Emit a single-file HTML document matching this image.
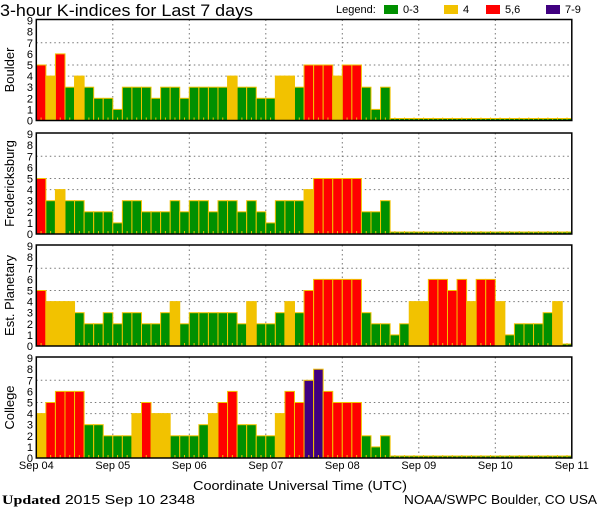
<!DOCTYPE html>
<html><head><meta charset="utf-8"><style>
body{margin:0;background:#fff;}
svg{display:block;font-family:"Liberation Sans",sans-serif;}
</style></head><body>
<svg id="c" width="600" height="510" xmlns="http://www.w3.org/2000/svg">
<text x="0" y="16" font-size="17" textLength="253" lengthAdjust="spacingAndGlyphs">3-hour K-indices for Last 7 days</text>
<g font-size="11">
<text x="336" y="13">Legend:</text>
<rect x="384" y="5" width="14" height="9" fill="#009000"/>
<text x="403" y="13">0-3</text>
<rect x="444" y="5" width="14" height="9" fill="#f2c200"/>
<text x="463" y="13">4</text>
<rect x="486" y="5" width="14" height="9" fill="#ff0000"/>
<text x="505" y="13">5,6</text>
<rect x="546" y="5" width="14" height="9" fill="#400080"/>
<text x="565" y="13">7-9</text>
</g>
<text x="193" y="490" font-size="13" textLength="214" lengthAdjust="spacingAndGlyphs">Coordinate Universal Time (UTC)</text>
<text x="2" y="504" font-size="13" textLength="193" lengthAdjust="spacingAndGlyphs"><tspan font-weight="bold" font-family="Liberation Serif,serif">Updated</tspan> 2015 Sep 10 2348</text>
<text x="404" y="504" font-size="13" textLength="193" lengthAdjust="spacingAndGlyphs">NOAA/SWPC Boulder, CO USA</text>
</svg>
<script>
const stations = ["Boulder","Fredericksburg","Est. Planetary","College"];
const dayLabels = ["Sep 04","Sep 05","Sep 06","Sep 07","Sep 08","Sep 09","Sep 10","Sep 11"];
const yTicks = [0,1,2,3,4,5,6,7,8,9];
const boulder = [5,4,6,3,4,3,2,2, 1,3,3,3,2,3,3,2, 3,3,3,3,4,3,3,2, 2,4,4,3,5,5,5,4, 5,5,3,1,3];
const fredericksburg = [5,3,4,3,3,2,2,2, 1,3,3,2,2,2,3,2, 3,3,2,3,3,2,3,2, 1,3,3,3,4,5,5,5, 5,5,2,2,3];
const estPlanetary = [5,4,4,4,3,2,2,3, 2,3,3,2,2,3,4,2, 3,3,3,3,3,2,4,2, 2,3,4,3,5,6,6,6, 6,6,3,2,2,1,2,4, 4,6,6,5,6,4,6,6, 4,1,2,2,2,3,4,0];
const college = [4,5,6,6,6,3,3,2, 2,2,4,5,4,4,2,2, 2,3,4,5,6,3,3,2, 2,4,6,5,7,8,6,5, 5,5,2,1,2];
const series = [boulder, fredericksburg, estPlanetary, college];
const NS="http://www.w3.org/2000/svg";
const svg=document.getElementById('c');
const X0=36.3, DAYW=76.5, NB=56, BIN=DAYW/8, UNIT=11.1;
const bottoms=[120.5,234,346,458];
function xs(i){return X0+i*BIN;}
function mk(t,a,p){const e=document.createElementNS(NS,t);for(const k in a)e.setAttribute(k,a[k]);(p||svg).appendChild(e);return e;}
function col(v){return v<=3?'#009000':v==4?'#f2c200':v<=6?'#ff0000':'#400080';}
stations.forEach((name,p)=>{
  const B=bottoms[p], T=B-101;
  const ys=v=>B-v*UNIT;
  const g=mk('g',{});
  
  
  [4,5,7].forEach(v=>{const l=mk('line',{x1:X0,x2:X0+7*DAYW,y1:ys(v),y2:ys(v),stroke:'#777','stroke-dasharray':'1.5,3'},g);
    });
  for(let d=1;d<7;d++){const l=mk('line',{x1:X0+d*DAYW,x2:X0+d*DAYW,y1:T,y2:B,stroke:'#777','stroke-dasharray':'1.5,3'},g);
    }
  const vals=series[p];
  for(let i=0;i<NB;i++){
    const v=i<vals.length?vals[i]:0;
    const h=v>0?v*UNIT:2;
    const r=mk('rect',{x:xs(i),y:B-h,width:BIN,height:h,fill:v>0?col(v):'#009000',stroke:'#f2c200','stroke-width':1},g);
    
    
    const tk=mk('line',{x1:xs(i)+BIN/2,x2:xs(i)+BIN/2,y1:B,y2:B-3,stroke:'#f2c200'},g);
    
    
  }
  const fr=mk('rect',{x:X0,y:T,width:7*DAYW,height:B-T,fill:'none',stroke:'#000','stroke-width':1.5},g);
  
  
  yTicks.forEach(v=>{const t=mk('text',{x:33,y:ys(v)+4,'font-size':11,'text-anchor':'end'},g);t.textContent=v;
    });
  const yt=mk('text',{x:0,y:0,'font-size':13,'text-anchor':'middle',transform:`translate(14,${(T+B)/2}) rotate(-90)`},g);
  yt.textContent=name;
  
  
});
dayLabels.forEach((d,i)=>{const t=mk('text',{x:X0+i*DAYW,y:469,'font-size':11,'text-anchor':'middle'});t.textContent=d;
  });
</script>
</body></html>
